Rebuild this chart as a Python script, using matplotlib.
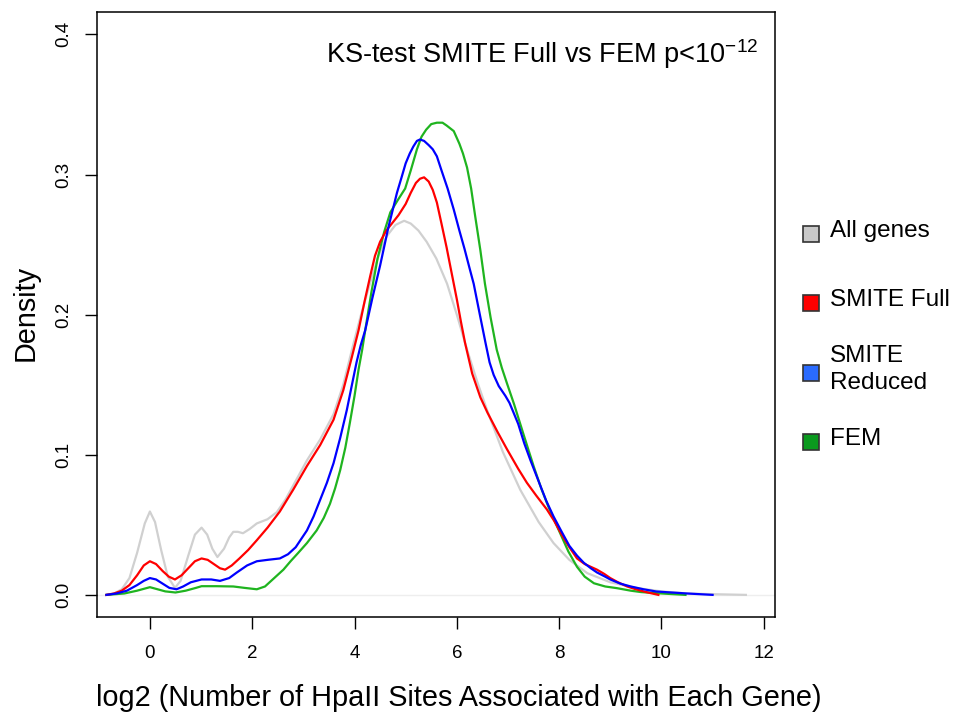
import matplotlib
matplotlib.use('Agg')
import matplotlib.pyplot as plt
from matplotlib.patches import Rectangle

plt.rcParams['font.family'] = ['Liberation Sans', 'DejaVu Sans']

# density curves: log2(number of HpaII sites) vs density
all_x = [-0.85, -0.7, -0.55, -0.4, -0.25, -0.1, 0.0, 0.1, 0.22, 0.35, 0.49, 0.6, 0.75, 0.88,
         1.01, 1.12, 1.22, 1.32, 1.45, 1.55, 1.63, 1.72, 1.82, 1.95, 2.09, 2.3, 2.48, 2.65,
         2.8, 3.07, 3.33, 3.59, 3.78, 3.95, 4.12, 4.3, 4.47, 4.63, 4.8, 4.97, 5.1, 5.25,
         5.41, 5.6, 5.81, 6.0, 6.2, 6.4, 6.59, 6.9, 7.24, 7.6, 7.89, 8.2, 8.55, 9.0, 9.5,
         10.0, 10.5, 11.0, 11.65]
all_y = [0.0, 0.001, 0.004, 0.012, 0.03, 0.051, 0.0595, 0.052, 0.032, 0.013, 0.005, 0.01,
         0.028, 0.043, 0.048, 0.043, 0.033, 0.027, 0.033, 0.041, 0.045, 0.045, 0.044, 0.047,
         0.051, 0.054, 0.059, 0.068, 0.078, 0.096, 0.111, 0.129, 0.15, 0.175, 0.199, 0.222,
         0.242, 0.256, 0.264, 0.267, 0.265, 0.26, 0.252, 0.24, 0.222, 0.2, 0.175, 0.152,
         0.132, 0.102, 0.075, 0.052, 0.037, 0.025, 0.0155, 0.009, 0.005, 0.0025, 0.001,
         0.0005, 0.0]

full_x = [-0.85, -0.7, -0.55, -0.4, -0.25, -0.12, 0.0, 0.12, 0.25, 0.37, 0.49, 0.62, 0.75,
          0.88, 1.01, 1.13, 1.25, 1.37, 1.47, 1.6, 1.75, 1.92, 2.09, 2.3, 2.54, 2.8, 3.07,
          3.33, 3.59, 3.78, 3.95, 4.08, 4.2, 4.31, 4.4, 4.5, 4.62, 4.73, 4.86, 5.0, 5.1,
          5.2, 5.28, 5.36, 5.45, 5.53, 5.61, 5.7, 5.8, 5.87, 6.0, 6.08, 6.16, 6.3, 6.46,
          6.6, 6.8, 6.98, 7.2, 7.37, 7.55, 7.76, 7.9, 8.05, 8.2, 8.35, 8.5, 8.62, 8.74,
          8.88, 9.0, 9.15, 9.33, 9.5, 9.7, 9.94]
full_y = [0.0, 0.001, 0.003, 0.007, 0.014, 0.021, 0.024, 0.022, 0.017, 0.013, 0.011, 0.014,
          0.019, 0.024, 0.026, 0.025, 0.022, 0.019, 0.018, 0.021, 0.026, 0.032, 0.039, 0.048,
          0.0595, 0.075, 0.092, 0.107, 0.125, 0.146, 0.17, 0.189, 0.21, 0.228, 0.242, 0.252,
          0.26, 0.265, 0.271, 0.279, 0.287, 0.294, 0.297, 0.298, 0.295, 0.289, 0.28, 0.265,
          0.248, 0.235, 0.211, 0.195, 0.18, 0.158, 0.141, 0.13, 0.116, 0.104, 0.09, 0.08,
          0.071, 0.061, 0.053, 0.043, 0.034, 0.026, 0.022, 0.02, 0.018, 0.015, 0.012, 0.009,
          0.006, 0.004, 0.002, 0.0]

reduced_x = [-0.85, -0.65, -0.45, -0.25, -0.12, 0.0, 0.12, 0.25, 0.38, 0.52, 0.65, 0.8, 1.01,
             1.2, 1.37, 1.55, 1.7, 1.9, 2.09, 2.3, 2.54, 2.7, 2.85, 3.07, 3.2, 3.33, 3.46,
             3.59, 3.72, 3.85, 3.95, 4.04, 4.12, 4.21, 4.35, 4.5, 4.66, 4.83, 4.92, 5.0,
             5.08, 5.15, 5.22, 5.28, 5.36, 5.45, 5.53, 5.61, 5.7, 5.82, 5.94, 6.05, 6.15,
             6.25, 6.33, 6.45, 6.56, 6.64, 6.72, 6.82, 6.95, 7.03, 7.11, 7.2, 7.32, 7.44,
             7.6, 7.75, 7.89, 8.05, 8.2, 8.35, 8.48, 8.62, 8.74, 8.9, 9.0, 9.2, 9.4, 9.65,
             9.9, 10.2, 10.5, 10.8, 11.0]
reduced_y = [0.0, 0.001, 0.003, 0.007, 0.01, 0.012, 0.011, 0.008, 0.005, 0.004, 0.006, 0.009,
             0.011, 0.011, 0.01, 0.012, 0.016, 0.021, 0.024, 0.025, 0.026, 0.029, 0.034,
             0.046, 0.056, 0.068, 0.08, 0.094, 0.112, 0.132, 0.15, 0.166, 0.178, 0.189,
             0.212, 0.235, 0.262, 0.287, 0.298, 0.308, 0.315, 0.32, 0.324, 0.325, 0.324,
             0.321, 0.318, 0.313, 0.303, 0.29, 0.275, 0.26, 0.247, 0.233, 0.222, 0.2, 0.18,
             0.166, 0.157, 0.149, 0.142, 0.137, 0.13, 0.122, 0.108, 0.096, 0.081, 0.067,
             0.056, 0.045, 0.035, 0.028, 0.023, 0.019, 0.016, 0.013, 0.011, 0.008, 0.006,
             0.004, 0.0024, 0.0017, 0.001, 0.0004, 0.0]

fem_x = [-0.85, -0.5, -0.25, 0.0, 0.15, 0.3, 0.5, 0.7, 0.9, 1.01, 1.3, 1.63, 1.85, 2.09,
         2.25, 2.4, 2.61, 2.75, 2.9, 3.07, 3.26, 3.4, 3.52, 3.62, 3.72, 3.82, 3.91, 4.0,
         4.08, 4.15, 4.21, 4.33, 4.45, 4.58, 4.7, 4.85, 4.99, 5.1, 5.22, 5.31, 5.4, 5.5,
         5.61, 5.72, 5.8, 5.94, 6.05, 6.12, 6.2, 6.28, 6.36, 6.46, 6.55, 6.66, 6.78, 6.88,
         6.98, 7.12, 7.3, 7.5, 7.65, 7.8, 8.02, 8.18, 8.35, 8.5, 8.68, 8.9, 9.13, 9.4, 9.6,
         10.0, 10.47]
fem_y = [0.0, 0.001, 0.003, 0.0055, 0.004, 0.0025, 0.0017, 0.003, 0.005, 0.0062, 0.0062,
         0.006, 0.005, 0.004, 0.006, 0.011, 0.018, 0.024, 0.03, 0.037, 0.046, 0.055, 0.065,
         0.076, 0.089, 0.105, 0.123, 0.142, 0.161, 0.175, 0.189, 0.216, 0.24, 0.259, 0.273,
         0.282, 0.29, 0.303, 0.318, 0.327, 0.332, 0.336, 0.337, 0.337, 0.335, 0.331, 0.322,
         0.315, 0.305, 0.29, 0.27, 0.246, 0.222, 0.198, 0.175, 0.162, 0.151, 0.136, 0.115,
         0.092, 0.076, 0.062, 0.044, 0.031, 0.02, 0.013, 0.0083, 0.006, 0.0048, 0.003,
         0.002, 0.001, 0.0]

legend_labels = ['All genes', 'SMITE Full', 'SMITE\nReduced', 'FEM']
legend_fill = ['#c8c8c8', '#ff0000', '#2a6bff', '#0a9a1e']

fig = plt.figure(figsize=(9.55, 7.13), dpi=100)
W, H = 955.0, 713.0
ax = fig.add_axes([96.7 / W, 1 - 617.3 / H, (775 - 96.7) / W, (617.3 - 12) / H])

ax.axhline(0, color='#eeeeee', lw=1, zorder=0)
ax.plot(all_x, all_y, color='#d0d0d0', lw=1.6)
ax.plot(fem_x, fem_y, color='#1fb41f', lw=1.6)
ax.plot(full_x, full_y, color='#ff0000', lw=1.6)
ax.plot(reduced_x, reduced_y, color='#0000ff', lw=1.6)

ax.set_xlim(-1.04, 12.22)
ax.set_ylim(-0.016, 0.416)
ax.set_xticks([0, 2, 4, 6, 8, 10, 12])
ax.set_yticks([0.0, 0.1, 0.2, 0.3, 0.4])
ax.set_yticklabels(['0.0', '0.1', '0.2', '0.3', '0.4'], rotation=90, va='center')
ax.tick_params(axis='both', direction='out', length=8.4, width=1.0, labelsize=13.5)
ax.tick_params(axis='x', pad=11.5)
ax.tick_params(axis='y', pad=9)
for s in ax.spines.values():
    s.set_linewidth(1.1)

ax.set_xlabel('log2 (Number of HpaII Sites Associated with Each Gene)', fontsize=20.8)
ax.xaxis.set_label_coords(459 / W, 1 - 706.5 / H, transform=fig.transFigure)
ax.xaxis.label.set_va('baseline')
ax.set_ylabel('Density', fontsize=20.8)
ax.yaxis.set_label_coords(33.3 / W, 1 - 313 / H, transform=fig.transFigure)
ax.yaxis.label.set_va('baseline')

fig.text(326 / W, 1 - 63 / H, r'KS-test SMITE Full vs FEM p<10$^{\mathregular{-12}}$',
         fontsize=19.5, va='baseline', ha='left')

# legend drawn outside the plot, R style
for i, (lab, col) in enumerate(zip(legend_labels, legend_fill)):
    yc = 231 + 69.3 * i
    fig.add_artist(Rectangle(((811 - 8) / W, 1 - (yc + 3 + 8) / H), 16 / W, 16 / H,
                             transform=fig.transFigure, facecolor=col,
                             edgecolor='#333333', lw=1.2))
    fig.text(830 / W, 1 - yc / H, lab, fontsize=17.5, va='center', ha='left',
             linespacing=1.25)

fig.savefig('out.png', dpi=100)
